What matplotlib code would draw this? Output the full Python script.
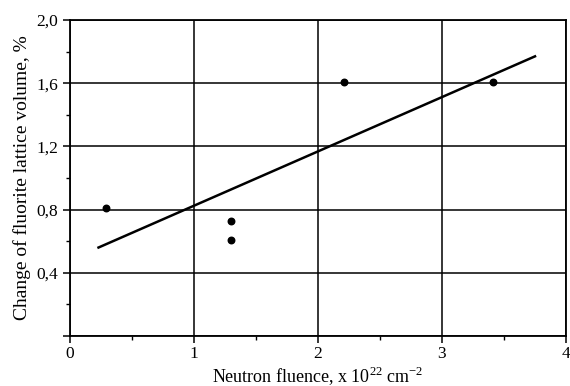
import matplotlib
matplotlib.use("Agg")
import matplotlib.pyplot as plt
from matplotlib.ticker import MultipleLocator, FuncFormatter

plt.rcParams['font.family'] = ['Liberation Serif', 'DejaVu Serif']
plt.rcParams['mathtext.fontset'] = 'custom'
plt.rcParams['mathtext.rm'] = 'Liberation Serif'

# measured points
fluence = [0.29, 1.3, 1.3, 2.21, 3.41]
volume_change = [0.81, 0.73, 0.61, 1.61, 1.61]

# fitted line end points
fit_x = [0.23, 3.75]
fit_y = [0.56, 1.77]

fig = plt.figure(figsize=(5.7, 3.86), dpi=100)
ax = fig.add_axes([70/570, 50/386, 496/570, 316/386])

ax.plot(fit_x, fit_y, color='black', lw=1.8)
ax.scatter(fluence, volume_change, s=22, color='black', zorder=3)

ax.set_xlim(0, 4)
ax.set_ylim(0, 2.0)
ax.xaxis.set_major_locator(MultipleLocator(1))
ax.xaxis.set_minor_locator(MultipleLocator(0.5))
ax.yaxis.set_major_locator(MultipleLocator(0.4))
ax.yaxis.set_minor_locator(MultipleLocator(0.2))

def yfmt(v, pos):
    if abs(v) < 1e-9:
        return ''
    return ('%.1f' % v).replace('.', ',')

ax.yaxis.set_major_formatter(FuncFormatter(yfmt))
ax.xaxis.set_major_formatter(FuncFormatter(lambda v, pos: '%d' % round(v)))

ax.grid(True, which='major', color='black', lw=1.1)
for s in ax.spines.values():
    s.set_linewidth(1.3)
ax.tick_params(which='major', length=5, width=1.1, labelsize=12.5, colors='black')
ax.tick_params(which='minor', length=3, width=1.0)
ax.tick_params(axis='x', pad=2)

ax.set_xlabel('Neutron fluence, x 10$^{22}$ cm$^{-2}$', fontsize=13, labelpad=2)
ax.set_ylabel('Change of fluorite lattice volume, %', fontsize=14, labelpad=4)

fig.savefig('out.png', dpi=100)
